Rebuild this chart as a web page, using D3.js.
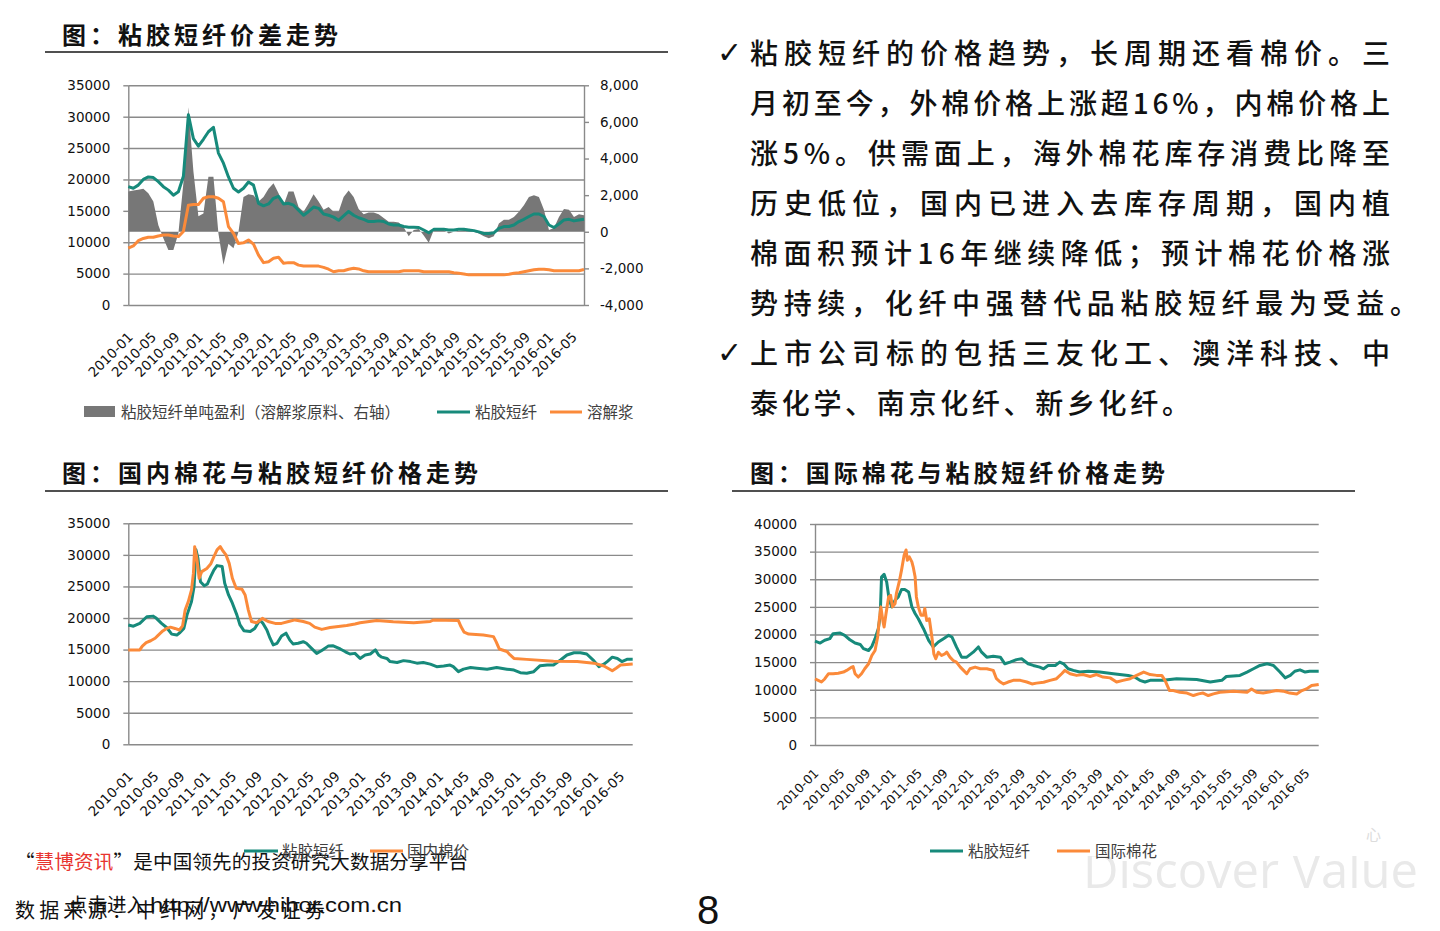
<!DOCTYPE html>
<html><head><meta charset="utf-8">
<script src="https://cdn.jsdelivr.net/npm/d3@7/dist/d3.min.js"></script>
<style>
html,body{margin:0;padding:0;background:#fff;}
svg{display:block;}
</style></head><body>
<svg id="chart" width="1440" height="931"></svg>
<script>
// ---------------- DATA ----------------
const monthLabels = ["2010-01","2010-05","2010-09","2011-01","2011-05","2011-09","2012-01","2012-05","2012-09","2013-01","2013-05","2013-09","2014-01","2014-05","2014-09","2015-01","2015-05","2015-09","2016-01","2016-05"];
const labelPos = [0,4,8,12,16,20,24,28,32,36,40,44,48,52,56,60,64,68,72,76];

// Chart 1: 粘胶短纤价差走势 (one value per sampling step)
const c1VSF = [18850,18600,19100,20000,20400,20300,19650,18850,18300,17500,18050,20500,30300,26500,25300,26400,27600,28300,24200,22600,20400,18600,18000,18600,19600,19100,16200,15800,16100,17000,17300,16100,16200,15900,15100,14300,14900,15600,15400,14500,14300,14000,13500,14200,14900,14300,13900,13650,13300,13300,13400,13300,12900,12750,12750,12500,12400,12400,12350,11950,11500,12050,12050,12050,11950,11950,12050,12050,11950,11850,11650,11400,11400,11500,12200,12500,12500,12750,13300,13650,14100,14500,14500,14100,12750,12350,12900,13550,13650,13400,13550,13650];
const c1Pulp = [9050,9400,10250,10600,10800,10800,11000,11150,11150,11000,10900,11700,15900,16000,16000,17000,17250,17250,17000,16450,12500,11400,9800,9900,10350,9700,7950,6750,6900,7450,7600,6650,6750,6750,6350,6200,6200,6200,6200,6000,5700,5300,5450,5450,5700,5850,5750,5450,5300,5300,5300,5300,5300,5300,5300,5450,5450,5450,5450,5300,5300,5300,5300,5300,5300,5150,5050,4950,4800,4800,4800,4800,4800,4800,4800,4800,4900,5050,5150,5300,5450,5600,5700,5700,5600,5450,5450,5450,5450,5450,5450,5650];
const c1Profit = [2200,2250,2300,2350,2100,1650,350,-350,-1000,-1000,-100,2650,6800,3300,850,1000,3000,3000,-100,-1800,-650,-900,0,1900,2050,2000,1650,1900,2350,2650,2100,1450,2200,2200,1350,1100,1550,2050,1650,1200,1350,1100,1100,1900,2250,1900,1250,950,1050,1050,950,750,550,550,500,250,-250,100,150,-200,-600,100,150,100,-100,0,50,100,100,0,-100,-250,-350,-250,450,650,650,800,1100,1450,1900,2000,1900,1200,100,200,800,1250,1200,800,950,900];
const c1LeftTicks = [0,5000,10000,15000,20000,25000,30000,35000];
const c1RightTicks = [-4000,-2000,0,2000,4000,6000,8000];

// Chart 2: 国内棉花与粘胶短纤价格走势 ([time step, price])
const c2VSF = [[0,18900],[0.8,18700],[1.8,19150],[2.9,20200],[3.9,20300],[4.4,19950],[5.2,19150],[6,18500],[6.8,17450],[7.6,17300],[8.1,17700],[8.7,18350],[9.2,20500],[9.9,22600],[10.3,25000],[10.6,30800],[10.9,29500],[11.3,25750],[11.9,25100],[12.4,25400],[12.9,26550],[13.4,27600],[13.9,28300],[14.7,28150],[15.1,25500],[15.7,23650],[16.3,22350],[17,20500],[17.5,18900],[18.1,18000],[19.1,17850],[19.8,18350],[20.6,19700],[21.1,19150],[21.7,18100],[22.2,16800],[22.7,15750],[23.3,16000],[24,17150],[24.7,17600],[25.3,16500],[25.8,15900],[26.6,16000],[27.4,16250],[27.9,16000],[28.7,15200],[29.5,14400],[30.3,14850],[31.3,15550],[32.1,15600],[33.2,15100],[34,14650],[34.7,14300],[35.5,14400],[36.3,13600],[37.1,14150],[37.9,14300],[38.7,14950],[39.2,14150],[39.7,13800],[40.5,13600],[41,13100],[42.1,12950],[43.1,13250],[44.2,13100],[45.2,12850],[46.2,12950],[47.3,12700],[48.3,12300],[49.4,12400],[50.4,12550],[50.9,12300],[51.7,11500],[52.5,11900],[53.6,12150],[54.6,12050],[56.2,11900],[57.7,12150],[59.3,11900],[60.4,11750],[61.4,11350],[62.4,11250],[63.5,11500],[64.5,12450],[65.6,12550],[66.6,12550],[67.7,13350],[68.7,14150],[69.8,14500],[70.8,14500],[71.8,14300],[72.9,13250],[73.7,12300],[74.5,12700],[75,13100],[75.8,13800],[76.6,13600],[77.3,13100],[78.1,13450],[79,13450]];
const c2Cotton = [[0,14950],[1.8,14950],[2.2,15550],[2.8,16100],[3.5,16400],[4.2,16800],[4.7,17300],[5.4,17950],[6,18350],[6.6,18550],[7.3,18350],[8,18100],[8.5,18750],[8.9,21250],[9.4,22600],[9.9,24450],[10.2,27100],[10.4,31300],[10.7,29700],[11.1,26300],[11.5,27350],[12.3,27850],[12.9,28550],[13.4,29700],[13.9,30800],[14.4,31300],[14.8,30650],[15.3,30000],[15.8,28650],[16.3,26300],[16.9,24700],[17.8,24550],[18.3,23650],[18.8,21250],[19.3,19450],[20.1,19250],[21,19950],[21.9,19450],[23,19150],[24,19150],[25.1,19450],[26.1,19700],[27.4,19450],[28.4,19150],[29.2,18550],[30.3,18200],[31.6,18500],[32.9,18650],[34.2,18800],[35.5,19050],[36.3,19250],[38.9,19600],[41.5,19400],[44.7,19250],[47.3,19450],[47.8,19700],[51.7,19600],[52.1,18650],[52.6,17750],[53.3,17450],[55.6,17300],[57.2,17050],[57.6,16250],[58.1,15100],[59.3,14700],[59.8,14150],[60.4,13600],[62.4,13450],[66.6,13150],[70.3,13100],[72.9,12850],[74.5,12400],[75.8,11650],[76.4,12050],[77.1,12550],[79,12700]];
const c2Ticks = [0,5000,10000,15000,20000,25000,30000,35000];

// Chart 3: 国际棉花与粘胶短纤价格走势
const c3VSF = [[0,18800],[0.8,18450],[1.5,18950],[2.3,19250],[2.8,20150],[3.9,20250],[4.6,19850],[5.4,19050],[6.2,18450],[7,18200],[7.5,17450],[8.3,17100],[8.8,17850],[9.3,19250],[9.8,21050],[10.1,23500],[10.3,30400],[10.7,30900],[11.1,29500],[11.5,26200],[11.9,25000],[12.4,26200],[12.9,26800],[13.4,28150],[13.9,28150],[14.5,27700],[15,25000],[15.5,23800],[16,22850],[16.8,21050],[17.6,18950],[18.3,17750],[19.1,18650],[19.9,19250],[20.7,19850],[21.2,19550],[21.9,17750],[22.7,15900],[23.5,15900],[24.5,16800],[25.3,17750],[25.8,16800],[26.6,15900],[27.6,16050],[28.7,15900],[29.4,14700],[30.2,15000],[31.2,15450],[32,15600],[33,14700],[33.8,14400],[34.8,14100],[35.4,13800],[36.1,14400],[37.2,14400],[37.9,15000],[38.5,14700],[39.2,13800],[40,13500],[41,13200],[42.3,13350],[44.1,13200],[46.2,12900],[48.5,12600],[49.5,12300],[50.3,11700],[51.1,11400],[51.9,11700],[53.9,11700],[56,12000],[59.1,11850],[61.2,11400],[63,11700],[63.7,12400],[65.8,12600],[66.9,13200],[67.9,13800],[68.9,14400],[70,14700],[71,14400],[72,13200],[72.8,12150],[73.6,12600],[74.3,13350],[75.1,13600],[75.9,13200],[76.6,13350],[78,13350]];
const c3Cotton = [[0,11950],[0.5,11700],[1,11400],[1.5,11950],[2.1,12900],[2.8,12900],[3.6,13000],[4.4,13200],[4.9,13500],[5.7,14100],[5.9,14200],[6.2,12900],[6.7,12300],[7.2,12900],[7.7,13800],[8.3,14700],[8.8,16200],[9.3,17100],[9.7,19550],[10,23200],[10.2,25000],[10.5,22550],[10.7,21350],[11,23800],[11.4,26800],[11.7,27100],[12,25000],[12.4,25600],[12.6,27400],[13.1,29850],[13.4,31650],[13.8,34350],[14.1,35300],[14.3,33450],[14.6,34050],[15,33150],[15.2,32250],[15.5,30450],[15.7,26800],[16,25000],[16.4,23500],[16.8,23500],[17,24700],[17.3,22550],[17.7,22850],[18.1,19550],[18.4,16500],[18.7,15600],[19.1,16800],[19.6,16200],[20.1,16500],[20.4,16800],[20.9,15900],[21.4,15300],[21.9,15000],[22.5,14100],[23,13500],[23.5,12900],[24,13800],[24.8,14100],[25.6,13800],[26.6,13800],[27.6,13500],[28.1,12000],[28.7,11400],[29.2,11050],[29.9,11400],[30.7,11700],[31.8,11700],[32.8,11400],[33.6,11050],[34.3,11200],[35.4,11350],[36.4,11700],[37.4,12000],[38.2,12900],[38.7,13500],[39.5,12900],[40.5,12600],[41.5,12750],[42.6,12400],[43.6,12750],[44.6,12300],[45.7,12150],[46.7,11400],[47.7,11700],[48.8,12000],[49.8,12600],[50.9,13200],[51.9,12750],[52.9,12600],[53.7,12600],[54.2,11700],[54.9,9850],[55.5,9850],[56.5,9550],[57.6,9400],[58.6,8950],[59.4,9250],[60.1,9400],[60.9,8950],[61.7,9250],[62.7,9550],[64.8,9750],[66.9,9550],[67.6,10150],[68.4,9550],[69.4,9400],[71.5,9850],[72.5,9750],[73.5,9400],[74.6,9250],[75.4,9850],[76.1,10150],[76.9,10750],[78,10950]];
const c3Ticks = [0,5000,10000,15000,20000,25000,30000,35000,40000];

const titles = ["图：粘胶短纤价差走势","图：国内棉花与粘胶短纤价格走势","图：国际棉花与粘胶短纤价格走势"];
const legend1 = ["粘胶短纤单吨盈利（溶解浆原料、右轴）","粘胶短纤","溶解浆"];
const legend2 = ["粘胶短纤","国内棉价"];
const legend3 = ["粘胶短纤","国际棉花"];
const bodyLines = ["粘胶短纤的价格趋势，长周期还看棉价。三","月初至今，外棉价格上涨超16%，内棉价格上","涨5%。供需面上，海外棉花库存消费比降至","历史低位，国内已进入去库存周期，国内植","棉面积预计16年继续降低；预计棉花价格涨","势持续，化纤中强替代品粘胶短纤最为受益。","上市公司标的包括三友化工、澳洋科技、中","泰化学、南京化纤、新乡化纤。"];

// ---------------- DRAW ----------------
const svg = d3.select("#chart");
const GRID = "#8a8a8a", TEAL = "#178a7b", ORANGE = "#fb8a3a", GRAYFILL = "#777777";
const CJK = '"Noto Sans CJK SC", sans-serif';
const NUM = '"DejaVu Sans", sans-serif';

svg.append("rect").attr("width",1440).attr("height",931).attr("fill","#fff");

// watermark (bottom right), partially hidden
svg.append("clipPath").attr("id","wm").append("rect").attr("x",1060).attr("y",856).attr("width",380).attr("height",80);
svg.append("text").attr("x",1083).attr("y",888).attr("clip-path","url(#wm)")
  .attr("font-family",'"Open Sans", sans-serif').attr("font-size",50).attr("fill","#e9e9e9")
  .attr("textLength",335).attr("lengthAdjust","spacingAndGlyphs").text("Discover Value");
svg.append("text").attr("x",1366).attr("y",840).attr("font-family",CJK).attr("font-size",15).attr("fill","#dcdcdc").text("心");

function title(x, y, text, len, x1, x2, ly) {
  svg.append("text").attr("x",x).attr("y",y).attr("font-family",CJK).attr("font-size",24)
    .attr("font-weight",700).attr("fill","#111").attr("textLength",len).attr("lengthAdjust","spacing").text(text);
  svg.append("line").attr("x1",x1).attr("x2",x2).attr("y1",ly).attr("y2",ly).attr("stroke","#505050").attr("stroke-width",2);
}
title(62, 44, titles[0], 276, 45, 668, 52);
title(62, 482, titles[1], 416, 45, 668, 491);
title(750, 482, titles[2], 415, 732, 1355, 491);

function drawChart(o) {
  const g = svg.append("g");
  const x = d3.scaleLinear().domain(o.xDomain).range([o.left, o.right]);
  const xl = d3.scaleLinear().domain(o.labelDomain).range([o.left, o.right]); // category-label axis
  const y = d3.scaleLinear().domain(o.yDomain).range([o.bottom, o.top]);
  g.append("g").attr("transform",`translate(${o.left},0)`)
    .call(d3.axisLeft(y).tickValues(o.yTicks).tickSize(-(o.right-o.left)).tickSizeOuter(0).tickFormat(""))
    .call(s=>{ s.select(".domain").remove(); s.selectAll("line").attr("stroke",GRID).attr("stroke-width",1.4); });
  g.append("g").attr("transform",`translate(${o.left},0)`)
    .call(d3.axisLeft(y).tickValues(o.yTicks).tickSize(5).tickSizeOuter(0).tickPadding(13).tickFormat(d3.format("d")))
    .call(s=>{ s.select(".domain").attr("stroke",GRID).attr("stroke-width",1.4);
      s.selectAll(".tick line").attr("stroke",GRID).attr("stroke-width",1.4);
      s.selectAll("text").attr("font-size",13.5).attr("font-family",NUM).attr("fill","#111"); });
  g.append("g").attr("transform",`translate(0,${o.bottom})`)
    .call(d3.axisBottom(xl).tickValues(labelPos).tickSize(0).tickFormat((d,i)=>monthLabels[i]))
    .call(s=>{ s.select(".domain").remove();
      s.selectAll("text").attr("x",0).attr("y",0).attr("dy",0).attr("text-anchor","end")
        .attr("transform",`translate(${o.labelDx},${o.labelDy}) rotate(-45)`)
        .attr("font-size",o.labelSize).attr("font-family",NUM).attr("fill","#111"); });
  return {g,x,y};
}

// ---- Chart 1 ----
{
  const o = {left:128.3,right:584,top:85.3,bottom:305,xDomain:[0,c1VSF.length-1],labelDomain:[0,78],yDomain:[0,35000],yTicks:c1LeftTicks,labelDx:5,labelDy:33,labelSize:13.5};
  const {g,x,y} = drawChart(o);
  const yR = d3.scaleLinear().domain([-4000,8000]).range([o.bottom,o.top]);
  g.append("g").attr("transform",`translate(${o.right},0)`)
    .call(d3.axisRight(yR).tickValues(c1RightTicks).tickSize(5).tickSizeOuter(0).tickPadding(11)
      .tickFormat(d=>d3.format(",")(d).replace("\u2212","-")))
    .call(s=>{ s.select(".domain").attr("stroke",GRID).attr("stroke-width",1.4);
      s.selectAll(".tick line").attr("stroke",GRID).attr("stroke-width",1.4);
      s.selectAll("text").attr("font-size",13.5).attr("font-family",NUM).attr("fill","#111"); });
  const area = d3.area().x((d,i)=>x(i)).y0(yR(0)).y1(d=>yR(d));
  g.append("path").datum(c1Profit).attr("d",area).attr("fill",GRAYFILL);
  const line = d3.line().x((d,i)=>x(i)).y(d=>y(d));
  g.append("path").datum(c1Pulp).attr("d",line).attr("fill","none").attr("stroke",ORANGE).attr("stroke-width",3).attr("stroke-linejoin","round");
  g.append("path").datum(c1VSF).attr("d",line).attr("fill","none").attr("stroke",TEAL).attr("stroke-width",3).attr("stroke-linejoin","round");
  const lg = svg.append("g").attr("font-family",CJK).attr("font-size",15.5).attr("fill","#404040");
  lg.append("rect").attr("x",84).attr("y",406).attr("width",31).attr("height",11).attr("fill",GRAYFILL);
  lg.append("text").attr("x",121).attr("y",418).text(legend1[0]);
  lg.append("line").attr("x1",437).attr("x2",470).attr("y1",412).attr("y2",412).attr("stroke",TEAL).attr("stroke-width",3);
  lg.append("text").attr("x",475).attr("y",418).text(legend1[1]);
  lg.append("line").attr("x1",550).attr("x2",582).attr("y1",412).attr("y2",412).attr("stroke",ORANGE).attr("stroke-width",3);
  lg.append("text").attr("x",587).attr("y",418).text(legend1[2]);
}

// ---- Chart 2 ----
{
  const o = {left:128.3,right:632.7,top:523.3,bottom:744.3,xDomain:[0,79],labelDomain:[0,78],yDomain:[0,35000],yTicks:c2Ticks,labelDx:5,labelDy:33,labelSize:13.5};
  const {g,x,y} = drawChart(o);
  const line = d3.line().x(d=>x(d[0])).y(d=>y(d[1]));
  g.append("path").datum(c2VSF).attr("d",line).attr("fill","none").attr("stroke",TEAL).attr("stroke-width",3).attr("stroke-linejoin","round");
  g.append("path").datum(c2Cotton).attr("d",line).attr("fill","none").attr("stroke",ORANGE).attr("stroke-width",3).attr("stroke-linejoin","round");
}

// ---- Chart 3 ----
{
  const o = {left:815,right:1318.7,top:524,bottom:745,xDomain:[0,78],labelDomain:[0,78],yDomain:[0,40000],yTicks:c3Ticks,labelDx:4,labelDy:29,labelSize:12.5};
  const {g,x,y} = drawChart(o);
  const line = d3.line().x(d=>x(d[0])).y(d=>y(d[1]));
  g.append("path").datum(c3VSF).attr("d",line).attr("fill","none").attr("stroke",TEAL).attr("stroke-width",3).attr("stroke-linejoin","round");
  g.append("path").datum(c3Cotton).attr("d",line).attr("fill","none").attr("stroke",ORANGE).attr("stroke-width",3).attr("stroke-linejoin","round");
  const lg = svg.append("g").attr("font-family",CJK).attr("font-size",15.5).attr("fill","#404040");
  lg.append("line").attr("x1",930).attr("x2",963).attr("y1",851).attr("y2",851).attr("stroke",TEAL).attr("stroke-width",3);
  lg.append("text").attr("x",968).attr("y",857).text(legend3[0]);
  lg.append("line").attr("x1",1057).attr("x2",1090).attr("y1",851).attr("y2",851).attr("stroke",ORANGE).attr("stroke-width",3);
  lg.append("text").attr("x",1095).attr("y",857).text(legend3[1]);
}

// ---- Right text block ----
{
  const tg = svg.append("g").attr("font-family",CJK).attr("font-size",28).attr("font-weight",500).attr("fill","#111");
  const lens = [640,640,640,640,640,668,640,440];
  bodyLines.forEach((t,i)=>{
    tg.append("text").attr("x",750).attr("y",64+i*50).attr("textLength",lens[i]).attr("lengthAdjust","spacing").text(t);
  });
  [0,6].forEach(i=> svg.append("text").attr("x",717).attr("y",63+i*50).attr("font-family",NUM)
    .attr("font-size",30).attr("font-weight",700).attr("fill","#111").text("\u2713"));
}

// ---- Bottom slide texts ----
{
  const f = svg.append("text").attr("x",15).attr("y",869).attr("font-family",CJK).attr("font-size",19.5).attr("fill","#111")
    .attr("textLength",453).attr("lengthAdjust","spacing");
  f.append("tspan").text("“");
  f.append("tspan").attr("fill","#e8342f").text("慧博资讯");
  f.append("tspan").text("”是中国领先的投资研究大数据分享平台");
  svg.append("text").attr("x",15).attr("y",918).attr("font-family",CJK).attr("font-size",20).attr("fill","#111")
    .attr("textLength",310).attr("lengthAdjust","spacing").text("数据来源：中纤网，广发证券");
  svg.append("text").attr("x",68).attr("y",912).attr("font-family",CJK).attr("font-size",19.5).attr("fill","#111").text("点击进入");
  svg.append("text").attr("x",150).attr("y",912).attr("font-family",'"Liberation Sans", sans-serif').attr("font-size",20).attr("fill","#111")
    .attr("textLength",252).attr("lengthAdjust","spacingAndGlyphs").text("http://www.hibor.com.cn");
  svg.append("text").attr("x",697).attr("y",924).attr("font-family",'"Liberation Sans", sans-serif').attr("font-size",40).attr("fill","#111").text("8");
  const lg = svg.append("g").attr("font-family",CJK).attr("font-size",15.5).attr("fill","#404040");
  lg.append("line").attr("x1",244).attr("x2",278).attr("y1",851).attr("y2",851).attr("stroke",TEAL).attr("stroke-width",3);
  lg.append("text").attr("x",282).attr("y",857).text(legend2[0]);
  lg.append("line").attr("x1",370).attr("x2",403).attr("y1",851).attr("y2",851).attr("stroke",ORANGE).attr("stroke-width",3);
  lg.append("text").attr("x",407).attr("y",857).text(legend2[1]);
}
</script>
</body></html>
